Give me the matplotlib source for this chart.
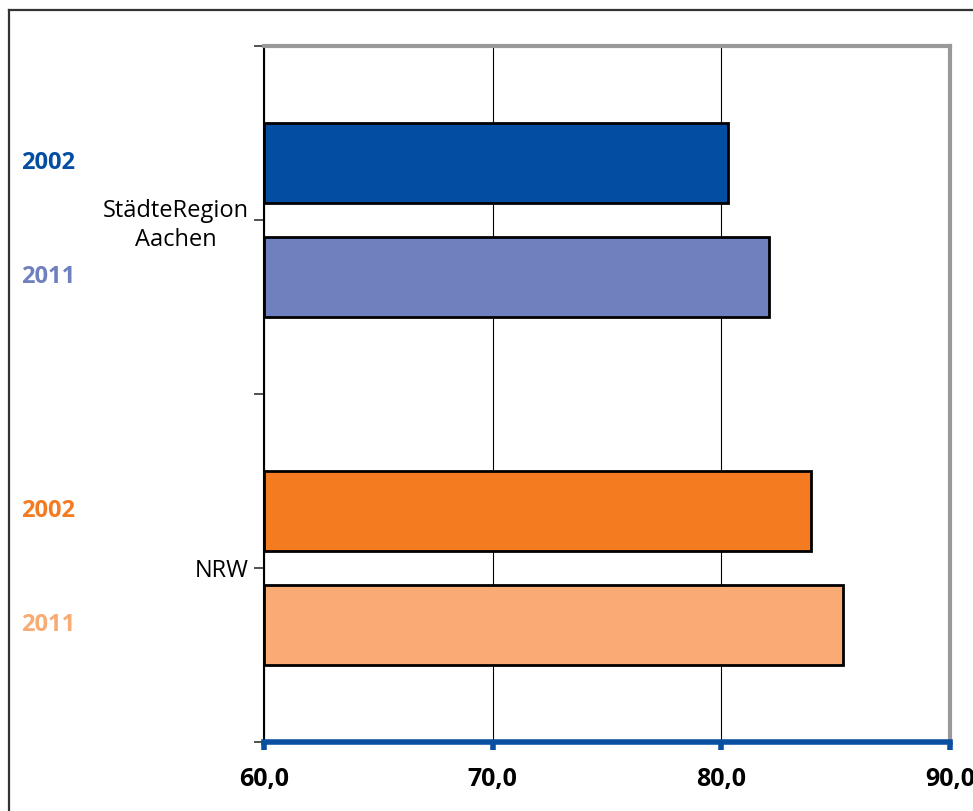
import matplotlib
matplotlib.use("Agg")
import matplotlib.pyplot as plt
from matplotlib.lines import Line2D
from matplotlib.transforms import blended_transform_factory

plt.rcParams["font.family"] = ["Open Sans", "DejaVu Sans"]

# data
regions = ["StädteRegion\nAachen", "NRW"]
years = ["2002", "2011"]
values = {
    "StädteRegion\nAachen": [80.3, 82.1],
    "NRW": [83.9, 85.3],
}
colors = {
    "StädteRegion\nAachen": ["#034ea2", "#6f80be"],
    "NRW": ["#f47b20", "#f9ab73"],
}
xticks = [60, 70, 80, 90]
xtick_labels = ["60,0", "70,0", "80,0", "90,0"]

W, H = 973, 811
fig = plt.figure(figsize=(W / 100, H / 100), dpi=100)
ax = fig.add_axes([264 / W, 1 - 742 / H, (950 - 264) / W, (742 - 46) / H])

# group centres (top to bottom): 3 and 1, bars offset by 1/3
centres = [3, 1]
off = 0.33
bar_h = 0.46
trans = blended_transform_factory(fig.transFigure, ax.transData)
for reg, c in zip(regions, centres):
    for i, (yr, v) in enumerate(zip(years, values[reg])):
        y = c + off if i == 0 else c - off
        ax.barh(y, v - 60, left=60, height=bar_h, color=colors[reg][i],
                edgecolor="black", linewidth=2, zorder=3)
        ax.text(21 / W, y, yr, transform=trans, color=colors[reg][i],
                fontsize=17, fontweight="bold", va="center", ha="left")

ax.set_xlim(60, 90)
ax.set_ylim(0, 4)
ax.set_xticks(xticks)
ax.set_xticklabels(xtick_labels, fontsize=18, fontweight="bold")
ax.tick_params(axis="x", direction="out", length=6, width=4,
               color="#0a50a0", pad=12)

ax.set_yticks([0, 1, 2, 3, 4])
ax.set_yticklabels(["", "NRW", "", "StädteRegion\nAachen", ""], fontsize=17)
for lbl in ax.get_yticklabels():
    lbl.set_multialignment("center")
    lbl.set_linespacing(1.3)
ax.tick_params(axis="y", direction="out", length=7, width=1.2,
               color="#333333", pad=4)

ax.grid(axis="x", color="black", linewidth=0.8, zorder=1)
ax.grid(axis="y", visible=False)

ax.spines["left"].set_color("black")
ax.spines["left"].set_linewidth(1.5)
ax.spines["bottom"].set_color("#0a50a0")
ax.spines["bottom"].set_linewidth(4)
ax.spines["bottom"].set_zorder(5)
for s in ("top", "right"):
    ax.spines[s].set_color("#999999")
    ax.spines[s].set_linewidth(3)

# outer frame (left and top edges visible)
x0, y0 = 9 / W, 1 - 10 / H
fig.add_artist(Line2D([x0, x0], [0, y0], transform=fig.transFigure,
                      color="#333333", linewidth=1.6))
fig.add_artist(Line2D([x0, 1], [y0, y0], transform=fig.transFigure,
                      color="#333333", linewidth=1.6))

fig.savefig("out.png", dpi=100)
